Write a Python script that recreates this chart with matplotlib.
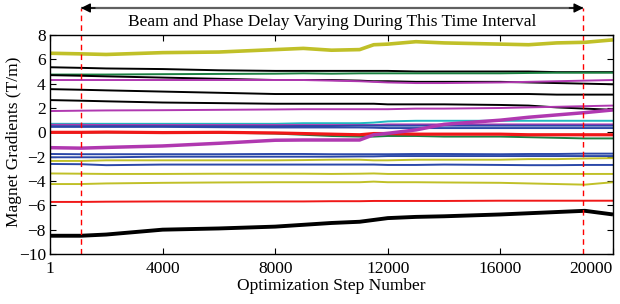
import matplotlib

matplotlib.use("Agg")
import matplotlib.pyplot as plt

plt.rcParams["font.family"] = ["Liberation Serif", "DejaVu Serif"]

# optimization step knots
steps = [1, 1100, 2000, 4000, 6000, 8000, 9000, 10000, 11000, 11500,
         12000, 13000, 14000, 16000, 17000, 18000, 19000, 20000]

x_ticks = [1, 4000, 8000, 12000, 16000, 20000]
y_ticks = [-10, -8, -6, -4, -2, 0, 2, 4, 6, 8]

interval_start = 1100
interval_end = 18950

title_text = "Beam and Phase Delay Varying During This Time Interval"
x_label = "Optimization Step Number"
y_label = "Magnet Gradients (T/m)"

blue = "#2b48a8"
green = "#1a8040"
red = "#f01818"
cyan = "#20b8c0"
magenta = "#b038b0"
olive = "#c0c028"
black = "#000000"

yellow_top = [6.5, 6.45, 6.4, 6.55, 6.6, 6.8, 6.9, 6.75, 6.8, 7.2,
              7.25, 7.45, 7.35, 7.25, 7.2, 7.35, 7.4, 7.6]
black_a = [5.35, 5.3, 5.25, 5.2, 5.1, 5.05, 5.05, 5.05, 5.05, 5.05,
           5.05, 5.0, 5.0, 5.0, 5.0, 4.95, 4.95, 4.95]
green_a = [4.75, 4.75, 4.75, 4.78, 4.8, 4.82, 4.85, 4.82, 4.85, 4.85,
           4.85, 4.85, 4.85, 4.85, 4.88, 4.9, 4.9, 4.9]
black_b = [4.7, 4.65, 4.6, 4.5, 4.4, 4.3, 4.3, 4.3, 4.25, 4.2,
           4.2, 4.15, 4.15, 4.15, 4.1, 4.05, 4.0, 3.95]
magenta_a = [4.3, 4.3, 4.3, 4.3, 4.3, 4.3, 4.3, 4.25, 4.2, 4.15,
             4.1, 4.05, 4.05, 4.1, 4.15, 4.2, 4.25, 4.3]
black_c = [3.55, 3.5, 3.45, 3.35, 3.25, 3.15, 3.15, 3.15, 3.15, 3.15,
           3.15, 3.15, 3.15, 3.15, 3.15, 3.1, 3.1, 3.1]
black_d = [2.65, 2.6, 2.55, 2.45, 2.4, 2.35, 2.35, 2.35, 2.35, 2.35,
           2.3, 2.3, 2.3, 2.25, 2.2, 2.05, 1.95, 1.85]
magenta_b = [1.75, 1.78, 1.8, 1.82, 1.85, 1.88, 1.9, 1.9, 1.9, 1.9,
             1.9, 1.95, 1.95, 2.0, 2.05, 2.1, 2.15, 2.2]
cyan_a = [0.7, 0.7, 0.7, 0.7, 0.7, 0.7, 0.75, 0.75, 0.75, 0.8,
          0.9, 0.95, 0.95, 0.95, 0.95, 0.95, 0.95, 0.95]
magenta_c = [0.62, 0.62, 0.6, 0.6, 0.6, 0.6, 0.6, 0.6, 0.6, 0.6,
             0.65, 0.65, 0.65, 0.65, 0.65, 0.65, 0.65, 0.65]
blue_a = [0.5, 0.5, 0.5, 0.5, 0.5, 0.5, 0.52, 0.52, 0.55, 0.55,
          0.55, 0.55, 0.55, 0.55, 0.55, 0.55, 0.55, 0.55]
blue_b = [0.45, 0.45, 0.45, 0.45, 0.42, 0.4, 0.4, 0.4, 0.4, 0.38,
          0.35, 0.35, 0.35, 0.35, 0.35, 0.35, 0.35, 0.35]
red_a = [0.0, 0.0, 0.02, -0.02, 0.0, -0.05, -0.1, -0.15, -0.2, -0.1,
         -0.1, -0.15, -0.15, -0.15, -0.2, -0.2, -0.2, -0.2]
green_b = [0.0, 0.0, 0.0, 0.0, -0.02, -0.1, -0.2, -0.3, -0.35, -0.35,
           -0.3, -0.3, -0.35, -0.35, -0.4, -0.45, -0.5, -0.5]
magenta_rise = [-1.26, -1.3, -1.24, -1.12, -0.9, -0.65, -0.63, -0.63, -0.63, -0.2,
                -0.08, 0.2, 0.66, 1.0, 1.24, 1.43, 1.62, 1.84]
blue_c = [-1.78, -1.8, -1.8, -1.8, -1.8, -1.78, -1.78, -1.8, -1.8, -1.8,
          -1.8, -1.78, -1.78, -1.8, -1.78, -1.78, -1.75, -1.75]
blue_d = [-2.05, -2.05, -2.05, -2.0, -2.0, -2.0, -2.0, -2.0, -1.98, -1.98,
          -1.95, -1.95, -1.95, -1.95, -1.95, -1.95, -1.95, -1.95]
olive_a = [-2.35, -2.35, -2.3, -2.3, -2.3, -2.3, -2.28, -2.25, -2.25, -2.3,
           -2.3, -2.25, -2.25, -2.25, -2.2, -2.2, -2.15, -2.12]
blue_e = [-2.6, -2.62, -2.7, -2.65, -2.65, -2.65, -2.65, -2.65, -2.65, -2.65,
          -2.68, -2.68, -2.65, -2.68, -2.7, -2.7, -2.68, -2.68]
olive_b = [-3.38, -3.4, -3.42, -3.42, -3.4, -3.4, -3.4, -3.42, -3.4, -3.38,
           -3.42, -3.42, -3.42, -3.42, -3.42, -3.42, -3.42, -3.42]
olive_c = [-4.25, -4.25, -4.2, -4.15, -4.12, -4.1, -4.1, -4.1, -4.1, -4.05,
           -4.1, -4.1, -4.12, -4.15, -4.2, -4.25, -4.3, -4.1]
red_b = [-5.72, -5.72, -5.7, -5.68, -5.68, -5.68, -5.68, -5.66, -5.66, -5.64,
         -5.64, -5.64, -5.64, -5.62, -5.62, -5.62, -5.62, -5.62]
black_bottom = [-8.5, -8.5, -8.4, -8.0, -7.9, -7.75, -7.6, -7.45, -7.35, -7.2,
                -7.05, -6.95, -6.9, -6.75, -6.65, -6.55, -6.45, -6.75]

series = [
    (yellow_top, olive, 2.6),
    (black_a, black, 1.4),
    (green_a, green, 1.4),
    (black_b, black, 1.4),
    (magenta_a, magenta, 1.4),
    (black_c, black, 1.4),
    (black_d, black, 1.4),
    (magenta_b, magenta, 1.4),
    (cyan_a, cyan, 1.4),
    (magenta_c, magenta, 1.4),
    (blue_a, blue, 1.4),
    (blue_b, blue, 1.4),
    (green_b, green, 1.4),
    (red_a, red, 2.3),
    (magenta_rise, magenta, 2.5),
    (blue_c, blue, 1.4),
    (blue_d, blue, 1.4),
    (olive_a, olive, 1.4),
    (blue_e, blue, 1.4),
    (olive_b, olive, 1.4),
    (olive_c, olive, 1.4),
    (red_b, red, 1.4),
    (black_bottom, black, 2.8),
]

fig = plt.figure(figsize=(6.2, 3.04), dpi=100)
ax = fig.add_axes([50 / 620, 50 / 304, 563 / 620, 219 / 304])

for values, color, width in series:
    ax.plot(steps, values, color=color, linewidth=width, solid_capstyle="butt")

ax.set_xlim(1, 20000)
ax.set_ylim(-10, 8)
ax.set_xticks(x_ticks)
ax.set_xticklabels([str(t) for t in x_ticks])
ax.set_yticks(y_ticks)
ax.tick_params(direction="in", length=4, width=0.8, top=True, right=True,
               labelsize=12.5, colors="black")
ax.tick_params(axis="x", pad=5)
ax.tick_params(axis="y", pad=3)
ax.get_xticklabels()[-1].set_horizontalalignment("right")
for spine in ax.spines.values():
    spine.set_linewidth(1.0)

ax.set_xlabel(x_label, fontsize=12.5, labelpad=1)
ax.set_ylabel(y_label, fontsize=12.5)
ax.yaxis.set_label_coords(-28 / 563, 0.51)

# dashed markers for the interval, running up above the axes
y_top = 8 + 27 / (219 / 18)
for step in (interval_start, interval_end):
    ax.plot([step, step], [-10, y_top], color="red", linestyle=(0, (4, 3)),
            linewidth=1.0, clip_on=False)

ax.plot([interval_start, interval_end], [y_top, y_top], color="#606060",
        linewidth=1.6, clip_on=False, solid_capstyle="butt")
head_len = 500
for tip, tail in ((interval_start, interval_start + head_len),
                  (interval_end, interval_end - head_len)):
    ax.annotate("", xy=(tip, y_top), xytext=(tail, y_top),
                xycoords="data", annotation_clip=False,
                arrowprops=dict(arrowstyle="-|>", color="black", lw=1.0,
                                mutation_scale=14, shrinkA=0, shrinkB=0))
ax.text((interval_start + interval_end) / 2, 8 + 13 / (219 / 18), title_text,
        ha="center", va="center", fontsize=12.5, clip_on=False)

fig.savefig("out.png", dpi=100)
